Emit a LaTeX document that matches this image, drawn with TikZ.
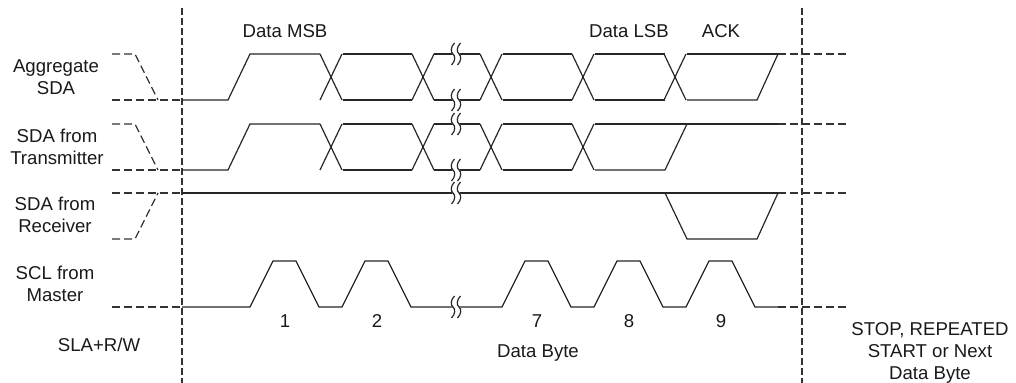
\documentclass[tikz,border=0pt]{standalone}
\usepackage{fontspec}
\setmainfont{Liberation Sans}
\usetikzlibrary{positioning}
\newcommand{\brkmark}[2]{%
  \begin{scope}[shift={(#1,#2)}]
    \draw[white,line width=3pt] (1.5,-11) .. controls (-2.5,-7) and (-2.5,-2) .. (0,0)
      .. controls (2.5,2) and (2.5,7) .. (-1.5,11);
    \foreach \o in {-3,3}
      \draw[w] (\o+1.5,-11) .. controls (\o-2.5,-7) and (\o-2.5,-2) .. (\o,0)
        .. controls (\o+2.5,2) and (\o+2.5,7) .. (\o-1.5,11);
  \end{scope}}

\begin{document}
\begin{tikzpicture}[x=0.5pt,y=-0.5pt,
  w/.style={draw=black!85,line width=0.6pt},
  d/.style={draw=black!80,line width=0.6pt,dash pattern=on 4pt off 2pt},
  v/.style={draw=black!80,line width=0.6pt,dash pattern=on 3.5pt off 1.5pt},
  t/.style={font=\fontsize{9.3}{11}\selectfont,text=black!90,align=center,inner sep=0pt}]
  \useasboundingbox (0,0) rectangle (1016,383);
  % labels
  \node[t] (agg) at (56,77) {Aggregate\\SDA};
  \node[t] (tx) at (57,147) {SDA from\\Transmitter};
  \node[t] (rx) at (55,215) {SDA from\\Receiver};
  \node[t] (scl) at (55,284) {SCL from\\Master};
  \node[t] (sla) at (99,345) {SLA+R/W};
  \node[t] (byte) at (538,353) {Data Byte};
  \node[t] (stop) at (930,353) {STOP, REPEATED\\START or Next\\Data Byte};
  \node[t] (msb) at (285,31) {Data MSB};
  \node[t] (lsb) at (629,31) {Data LSB};
  \node[t] (ack) at (721,31) {ACK};
  \foreach \n/\c in {1/285,2/377,7/537,8/629,9/721}
    \node[t] (n\n) at (\c,321) {\n};
  % frame lines
  \draw[v] (182,8) -- (182,383);
  \draw[v] (802,8) -- (802,383);
  \draw[d] (112,54) -- (135,54) -- (158,100);
  \draw[d] (112,100) -- (182,100);
  \draw[d] (112,124) -- (135,124) -- (158,170);
  \draw[d] (112,170) -- (182,170);
  \draw[d] (112,239) -- (135,239) -- (158,193);
  \draw[d] (112,193) -- (182,193);
  \draw[d] (112,307) -- (182,307);
  \foreach \y in {54,124,193,307}
    \draw[d] (778,\y) -- (848,\y);
  % aggregate SDA
  \draw[w] (182,100) -- (228,100) -- (250,54) -- (320,54);
  \foreach \a/\b in {343/412,434/480,503/572,595/665}
    {\draw[w] (\a,54) -- (\b,54); \draw[w] (\a,100) -- (\b,100);}
  \draw[w] (687,54) -- (778,54);
  \draw[w] (687,100) -- (757,100) -- (778,54);
  \foreach \c in {331,423,491,583,675}
    {\draw[w] (\c-11,54) -- (\c+11,100); \draw[w] (\c-11,100) -- (\c+11,54);}
  % SDA from transmitter
  \draw[w] (182,170) -- (228,170) -- (250,124) -- (320,124);
  \foreach \a/\b in {343/412,434/480,503/572}
    {\draw[w] (\a,124) -- (\b,124); \draw[w] (\a,170) -- (\b,170);}
  \draw[w] (595,124) -- (778,124);
  \draw[w] (595,170) -- (665,170) -- (687,124);
  \foreach \c in {331,423,491,583}
    {\draw[w] (\c-11,124) -- (\c+11,170); \draw[w] (\c-11,170) -- (\c+11,124);}
  % SDA from receiver
  \draw[w] (182,193) -- (778,193);
  \draw[w] (665,193) -- (687,239) -- (757,239) -- (778,193);
  % SCL from master
  \draw[w] (182,307) \foreach \c in {285,377,537,629,721}
    { -- (\c-35,307) -- (\c-12,261) -- (\c+11,261) -- (\c+34,307)} -- (778,307);
  % breaks
  \foreach \y in {54,100,124,170,193,307}
    \brkmark{456}{\y};
\end{tikzpicture}
\end{document}
